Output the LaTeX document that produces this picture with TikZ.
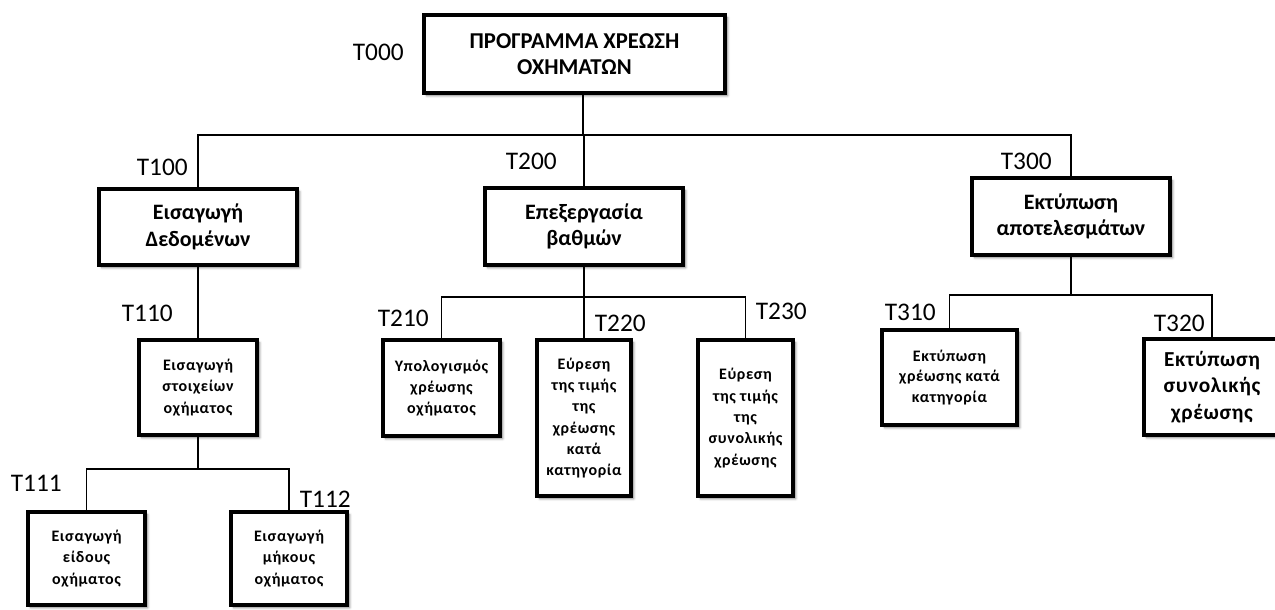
\documentclass[tikz,border=0pt]{standalone}
\usepackage{fontspec}
\setmainfont{Carlito}
\usetikzlibrary{shadows.blur}

\tikzset{
  % framed task box with a soft drop shadow
  taskbox/.style={draw, line width=3pt, fill=white, inner sep=0pt, align=center,
    blur shadow={shadow xshift=2pt, shadow yshift=-2pt,
                 shadow blur radius=1.8pt, shadow opacity=50}},
  dims/.style 2 args={minimum width=(#1-4)*0.75pt, minimum height=(#2-4)*0.75pt},
  toptxt/.style={font=\bfseries\fontsize{17}{19}\selectfont},
  bigtxt/.style={font=\bfseries\fontsize{16.5}{20}\selectfont},
  smalltxt/.style={font=\bfseries\fontsize{12}{16}\selectfont\addfontfeatures{LetterSpace=4}},
  code/.style={anchor=east, inner sep=0pt, font=\fontsize{19}{21}\selectfont},
  link/.style={line width=1pt}
}

\begin{document}
\begin{tikzpicture}[x=0.75pt,y=-0.75pt]
\useasboundingbox (0,0) rectangle (1275,610);

% ---- boxes ----
\node[taskbox, dims={305}{82}, toptxt] (n000) at (574.5,54)
  {ΠΡΟΓΡΑΜΜΑ ΧΡΕΩΣΗ\\ΟΧΗΜΑΤΩΝ};

\node[taskbox, dims={202}{80}, bigtxt] (n100) at (198,227) {Εισαγωγή\\Δεδομένων};
\node[taskbox, dims={202}{81}, bigtxt] (n200) at (584,226.5) {Επεξεργασία\\βαθμών};
\node[taskbox, dims={202}{81}, bigtxt] (n300) at (1071,216.5) {Εκτύπωση\\αποτελεσμάτων};

\node[taskbox, dims={122}{99}, smalltxt] (n110) at (198,387.5)
  {Εισαγωγή\\στοιχείων\\οχήματος};
\node[taskbox, dims={121}{97}, smalltxt] (n111) at (86.5,558.5)
  {Εισαγωγή\\είδους\\οχήματος};
\node[taskbox, dims={120}{97}, smalltxt] (n112) at (289,558.5)
  {Εισαγωγή\\μήκους\\οχήματος};

\node[taskbox, dims={121}{100}, smalltxt] (n210) at (441.5,388)
  {Υπολογισμός\\χρέωσης\\οχήματος};
\node[taskbox, dims={98}{160}, smalltxt] (n220) at (584,418)
  {Εύρεση\\της τιμής\\της\\χρέωσης\\κατά\\κατηγορία};
\node[taskbox, dims={99}{160}, smalltxt] (n230) at (745.5,418)
  {Εύρεση\\της τιμής\\της\\συνολικής\\χρέωσης};

\node[taskbox, dims={139}{99}, smalltxt, font=\bfseries\fontsize{12}{15.5}\selectfont\addfontfeatures{LetterSpace=4}] (n310) at (949.5,377.5)
  {Εκτύπωση\\χρέωσης κατά\\κατηγορία};
\node[taskbox, dims={140}{100}, font=\bfseries\fontsize{16}{20}\selectfont\addfontfeatures{LetterSpace=3}] (n320) at (1212,387)
  {Εκτύπωση\\συνολικής\\χρέωσης};

% ---- task codes ----
\node[code] (c000) at (404,52) {T000};
\node[code] (c100) at (188,167) {T100};
\node[code] (c200) at (557,161) {T200};
\node[code] (c300) at (1052,161) {T300};
\node[code] (c110) at (173,313) {T110};
\node[code] (c111) at (62,483) {T111};
\node[code] (c112) at (351,499) {T112};
\node[code] (c210) at (429,318) {T210};
\node[code] (c220) at (646,323) {T220};
\node[code] (c230) at (807,311) {T230};
\node[code] (c310) at (936,312) {T310};
\node[code] (c320) at (1205,323) {T320};

% ---- junctions of the tree ----
\coordinate (j0) at (583,135);
\coordinate (j11) at (198,469);
\coordinate (j2) at (584,297);
\coordinate (j3) at (1071,295);

% ---- connectors ----
\draw[link] (n000.south -| j0) -- (j0);
\draw[link] (n100.north) |- (j0) -| (n300.north);
\draw[link] (n200.north) -- (n200.north |- j0);

\draw[link] (n100.south) -- (n110.north);
\draw[link] (n110.south) -- (j11);
\draw[link] (n111.north) |- (j11) -| (n112.north);

\draw[link] (n200.south) -- (j2);
\draw[link] (n210.north) |- (j2) -| (n230.north);
\draw[link] (n220.north) -- (n220.north |- j2);

\draw[link] (n300.south) -- (j3);
\draw[link] (n310.north) |- (j3) -| (n320.north);
\end{tikzpicture}
\end{document}
